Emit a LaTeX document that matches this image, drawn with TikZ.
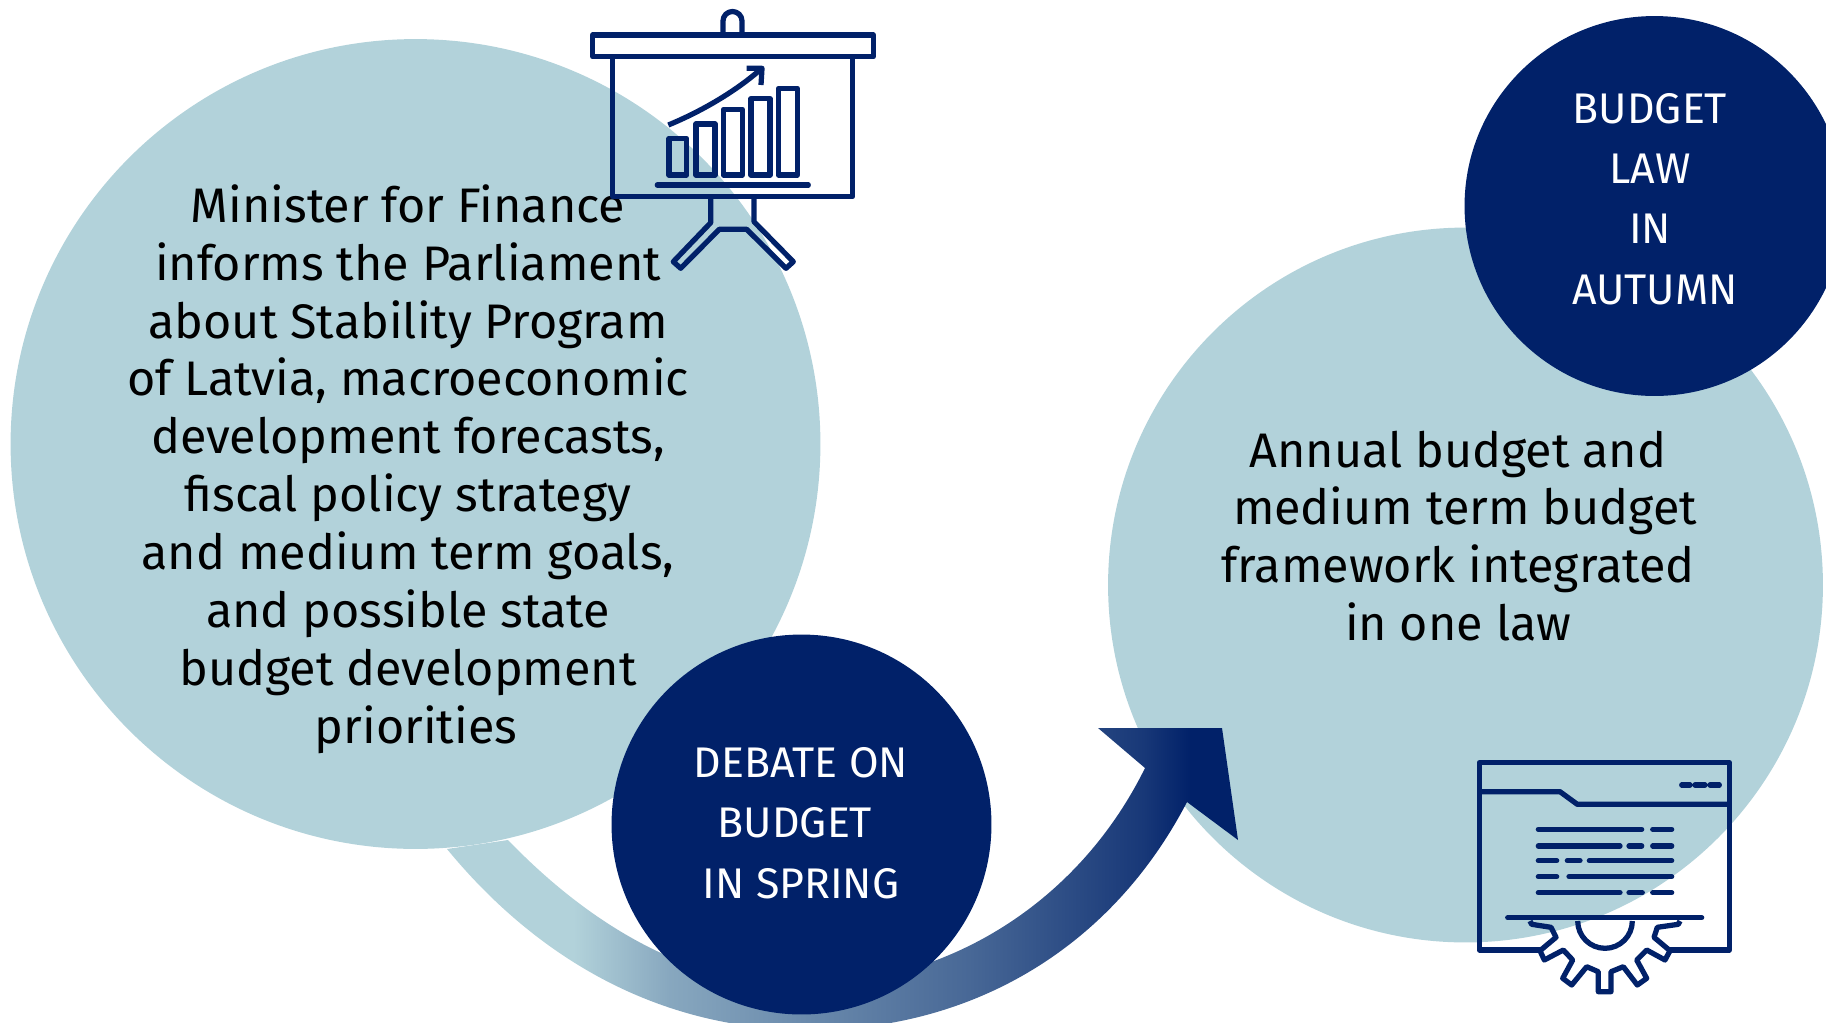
\documentclass[tikz,border=0pt]{standalone}
\usepackage{fontspec}
\setmainfont{Fira Sans}
\definecolor{paleblue}{HTML}{B2D2DA}
\definecolor{navyblue}{HTML}{012169}
\pgfdeclarehorizontalshading{arrowfade}{100bp}{color(0bp)=(paleblue); color(33bp)=(paleblue); color(39bp)=(paleblue!76!navyblue); color(58bp)=(paleblue!40!navyblue); color(69bp)=(paleblue!13!navyblue); color(72bp)=(navyblue); color(100bp)=(navyblue)}
\tikzset{
  bubble/.style={circle, fill=paleblue, inner sep=0pt},
  darkbubble/.style={circle, fill=navyblue, inner sep=0pt, minimum size=7.6cm},
  bodytext/.style={align=center, text=black, font=\fontsize{27.6}{32.95}\selectfont},
  headtext/.style={align=center, text=white, font=\fontsize{24.4}{34.4}\selectfont},
  icon/.style={draw=navyblue, line width=1.05mm, line join=round},
}

\begin{document}
\begin{tikzpicture}[x=0.02cm, y=-0.02cm]
\useasboundingbox (0,0) rectangle (1826,1022);
\node[bubble, minimum size=16.2cm] (planning) at (415.5,444) {};
\node[bubble, minimum size=14.3cm] (integrated) at (1465.5,585) {};
\shade[shading=arrowfade] (447,849) .. controls (530,950) and (650,1030) .. (810,1030) .. controls (970,1030) and (1110,950) .. (1187,802) -- (1238,840) -- (1222,728) -- (1098,728) -- (1145,768) .. controls (1080,900) and (950,985) .. (800,985) .. controls (690,985) and (590,925) .. (508,840) -- cycle;
\node[darkbubble] (debate) at (801.5,824.5) {};
\node[darkbubble] (budgetlaw) at (1654.5,206) {};
\node[bodytext] (planningtext) at (408,469) {Minister for Finance\\informs the Parliament\\about Stability Program\\of Latvia, macroeconomic\\development forecasts,\\fiscal policy strategy\\and medium term goals,\\and possible state\\budget development\\\hspace*{.32cm}priorities};
\node[bodytext] (integratedtext) at (1458,536) {Annual budget and\\\hspace*{.28cm}medium term budget\\framework integrated\\in one law};
\node[headtext] (debatetext) at (801,823) {DEBATE ON\\BUDGET\hspace*{.24cm}\mbox{}\\IN SPRING};
\node[headtext] (budgetlawtext) at (1650,199) {BUDGET\\LAW\\IN\\\hspace*{.2cm}AUTUMN};
% board
\draw[icon, fill=white] (592.7,35) rectangle (873.3,56.7);
\draw[icon] (723,33) -- (723,21) arc[start angle=180, end angle=360, radius=9.5] -- (742,33);
\draw[icon] (612.7,56.7) rectangle (852.7,196.7);
\draw[icon] (668.3,125) .. controls (700,112) and (735,92) .. (761,69);
\draw[icon] (746.7,68.3) -- (762,68.3) -- (761,85);
\draw[icon] (669,175) rectangle (686.7,138.3);
\draw[icon] (696,175) rectangle (715,124);
\draw[icon] (723.3,175) rectangle (742.3,109.3);
\draw[icon] (751,175) rectangle (770,98.7);
\draw[icon] (778.3,175) rectangle (797.3,88.3);
\draw[icon, line cap=round] (657.3,185) -- (808.3,185);
\draw[icon] (710.7,198.3) -- (710.7,222.7) -- (673.3,261.7) -- (680.7,268.3) -- (719.3,229.3) -- (746.7,229.3) -- (786,268.3) -- (793.3,261.7) -- (754,221.7) -- (754,198.3);
% window
\draw[icon] (1540,950) -- (1479.3,950) -- (1479.3,762.7) -- (1729.3,762.7) -- (1729.3,950) -- (1670,950);
\draw[icon] (1479.3,791.7) -- (1560,791.7) -- (1577.3,804.3) -- (1729.3,804.3);
\draw[icon, line cap=round] (1681.7,785) -- (1690,785) (1695,785) -- (1705,785) (1710,785) -- (1719.3,785);
\draw[icon, line cap=round] (1538.3,829.3) -- (1641.7,829.3) (1652.7,829.3) -- (1671.7,829.3);
\draw[icon, line cap=round] (1538.3,846) -- (1620,846) (1629,846) -- (1641.7,846) (1652.7,846) -- (1671.7,846);
\draw[icon, line cap=round] (1538.3,860.7) -- (1556.7,860.7) (1567.3,860.7) -- (1580,860.7) (1589.3,860.7) -- (1671.7,860.7);
\draw[icon, line cap=round] (1538.3,876.7) -- (1556.7,876.7) (1569,876.7) -- (1671.7,876.7);
\draw[icon, line cap=round] (1538.3,892.7) -- (1620,892.7) (1629,892.7) -- (1642.3,892.7) (1652.7,892.7) -- (1671.7,892.7);
\draw[icon, line cap=round] (1507.7,917.7) -- (1701.7,917.7);
\draw[icon] (1530,921) -- (1531.7,924.3) -- (1551,927.3) -- (1556,937.3) -- (1540,950.7) -- (1544.3,960) -- (1563.3,950) -- (1572.7,960) -- (1562.7,978.3) -- (1571.7,985) -- (1586.7,966.7) -- (1598.3,971.7) -- (1598.3,991.7) -- (1611,991.7) -- (1611,971.7) -- (1623.3,966.7) -- (1637.3,985) -- (1646.7,978.3) -- (1636.7,960) -- (1646.7,950) -- (1665,960) -- (1670,950.7) -- (1654,937.3) -- (1657.3,927.3) -- (1678.3,924.3) -- (1680,921);
\draw[icon] (1577.7,921) arc[start angle=180, end angle=0, radius=27.3];
\end{tikzpicture}
\end{document}
